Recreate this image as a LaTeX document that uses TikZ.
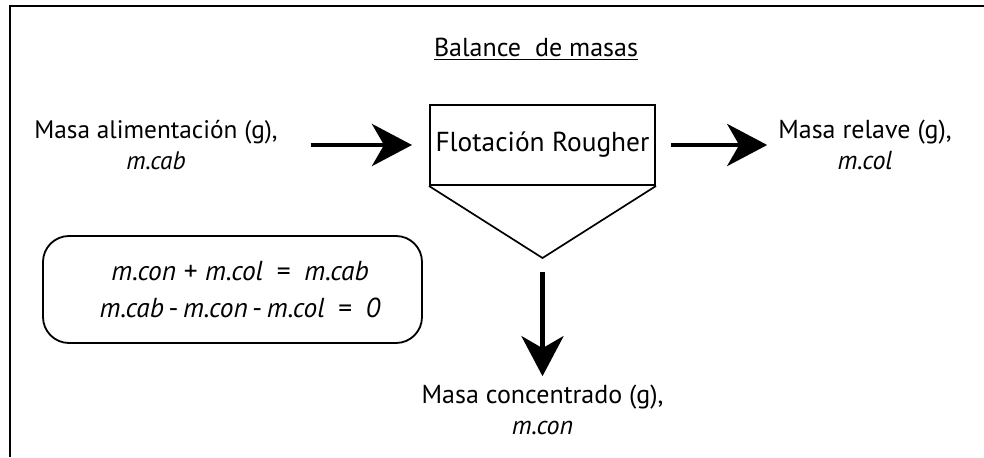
\documentclass[tikz,border=0pt]{standalone}
\usepackage{fontspec}
\setmainfont{PT Sans}
\usetikzlibrary{arrows.meta, positioning, calc}

\tikzset{
  proc/.style={draw, line width=1.4pt, minimum width=5.625cm, minimum height=2cm, inner sep=0pt},
  lbl/.style={align=center, inner sep=2pt},
  flow/.style={line width=3.5pt, -{Stealth[length=1cm, width=1.05cm, inset=0.3cm]}}
}

\begin{document}
\begin{tikzpicture}[font=\fontsize{18.5}{21.8}\selectfont]
\useasboundingbox (0,0) rectangle (24.6,11.425);
% frame
\draw[line width=1.5pt] (0.25,0) -- (0.25,11.275) -- (24.6,11.275);
\node (title) at (13.4,10.2) {\underline{Balance\ \ de masas}};
% flotation cell
\node[proc, font=\fontsize{19.5}{22}\selectfont] (rougher) at (13.5625,7.8) {Flotación Rougher};
\coordinate (apex) at (13.5625,4.975);
\draw[line width=1.2pt, line join=miter] (rougher.south west) -- (apex) -- (rougher.south east);
% streams
\node[lbl, font=\fontsize{18}{21.8}\selectfont] (feed) at (3.9,7.8) {Masa alimentación (g),\\\textit{m.cab}};
\node[lbl] (tail) at (21.625,7.8) {Masa relave (g),\\\textit{m.col}};
\node[lbl] (conc) at (13.5625,1.175) {Masa concentrado (g),\\\textit{m.con}};
\draw[flow, shorten <=0.75cm, shorten >=0.425cm] (feed) -- (rougher);
\draw[flow, shorten <=0.375cm, shorten >=0.2cm] (rougher) -- (tail);
\draw[flow, shorten <=0.35cm, shorten >=0.15cm] (apex) -- (conc);
% balance
\node[draw, line width=1.3pt, rounded corners=0.65cm, minimum width=9.475cm, minimum height=2.675cm, align=center,
  font=\fontsize{19.5}{23}\selectfont]
  (bal) at (5.8125,4.1875) {\hspace{0.38cm}\textit{m.con}\;+\;\textit{m.col}\enspace=\enspace\textit{m.cab}\\[3pt]
  \hspace{0.38cm}\textit{m.cab}\,-\,\textit{m.con}\,-\,\textit{m.col}\enspace=\enspace\textit{0}};
\end{tikzpicture}
\end{document}
